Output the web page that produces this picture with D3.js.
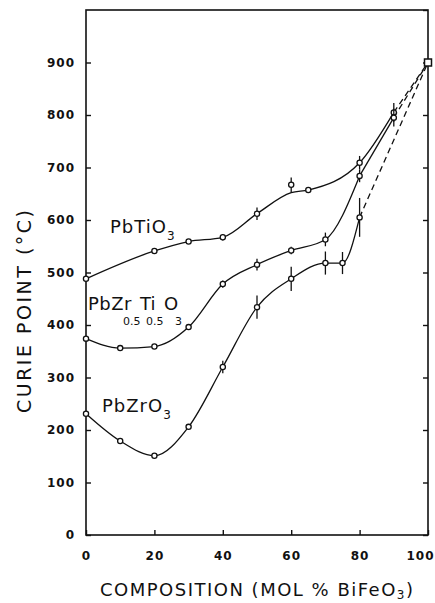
<!DOCTYPE html>
<html><head><meta charset="utf-8">
<script src="https://cdn.jsdelivr.net/npm/d3@7"></script>
<style>body{margin:0;background:#fff}svg{display:block}</style>
</head><body>
<script>
// ---- data ----
const xTicks = [0, 20, 40, 60, 80, 100];
const yTicks = [0, 100, 200, 300, 400, 500, 600, 700, 800, 900];

// PbTiO3 measured points [x, y, err]
const tiX   = [0, 20, 30, 40, 50, 60, 65, 80, 90];
const tiY   = [488, 541, 559, 567, 612, 667, 657, 709, 805];
const tiErr = [0, 0, 0, 6, 12, 14, 0, 13, 18];
// fitted curve for PbTiO3 (solid to 90)
const tiFitX = [0, 20, 30, 40, 50, 60, 65, 80, 90];
const tiFitY = [488, 541, 559, 567, 612, 652, 657, 709, 805];

// PbZr0.5Ti0.5O3
const pztX   = [0, 10, 20, 30, 40, 50, 60, 70, 80, 90];
const pztY   = [374, 356, 359, 396, 478, 515, 542, 563, 684, 795];
const pztErr = [0, 0, 0, 0, 7, 11, 7, 13, 12, 17];

// PbZrO3
const zrX   = [0, 10, 20, 30, 40, 50, 60, 70, 75, 80];
const zrY   = [231, 179, 151, 206, 320, 434, 488, 518, 518, 605];
const zrErr = [0, 0, 0, 0, 12, 22, 23, 22, 21, 37];

// BiFeO3 end member
const endX = [100];
const endY = [900];

const W = 435, H = 603;
const svg = d3.select("body").append("svg").attr("width", W).attr("height", H);

const x = d3.scaleLinear().domain([0, 100]).range([86, 428]);
const y = d3.scaleLinear().domain([0, 1000]).range([535, 10]);

const ink = "#111";

// frame
svg.append("rect").attr("x", x(0)).attr("y", y(1000))
  .attr("width", x(100) - x(0)).attr("height", y(0) - y(1000))
  .attr("fill", "none").attr("stroke", ink).attr("stroke-width", 1.6);

// axes (inward ticks)
const tickFont = "bold 12px 'DejaVu Sans', sans-serif";
const gl = svg.append("g").attr("transform", `translate(${x(0)},0)`)
  .call(d3.axisLeft(y).tickValues(yTicks).tickSizeInner(-5).tickSizeOuter(0).tickPadding(11).tickFormat(d3.format("d")));
const gr = svg.append("g").attr("transform", `translate(${x(100)},0)`)
  .call(d3.axisRight(y).tickValues(yTicks.concat([1000])).tickSizeInner(-5).tickSizeOuter(0).tickFormat(""));
const gb = svg.append("g").attr("transform", `translate(0,${y(0)})`)
  .call(d3.axisBottom(x).tickValues(xTicks).tickSizeInner(-5).tickSizeOuter(0).tickPadding(16).tickFormat(d3.format("d")));
[gl, gr, gb].forEach(g => {
  g.select(".domain").remove();
  g.selectAll(".tick line").attr("stroke", ink).attr("stroke-width", 1.4);
  g.selectAll(".tick text").attr("fill", ink).style("font", tickFont).style("letter-spacing", "1px");
});
// last x tick label sits against the page edge
gb.selectAll(".tick text").filter(d => d === 100).attr("text-anchor", "end").attr("dx", 6);

// line generators
const line = d3.line().x(d => x(d[0])).y(d => y(d[1])).curve(d3.curveMonotoneX);
const straight = d3.line().x(d => x(d[0])).y(d => y(d[1]));
const zip = (a, b) => a.map((v, i) => [v, b[i]]);

const lines = svg.append("g").attr("fill", "none").attr("stroke", ink).attr("stroke-width", 1.3);
lines.append("path").attr("d", line(zip(tiFitX, tiFitY)));
lines.append("path").attr("d", line(zip(pztX.slice(0, 9), pztY.slice(0, 9))));
lines.append("path").attr("d", straight(zip(pztX.slice(8), pztY.slice(8))));
lines.append("path").attr("d", line(zip(zrX, zrY)));
// dashed extrapolations to BiFeO3
const dash = "6,4";
lines.append("path").attr("stroke-dasharray", dash)
  .attr("d", straight([[tiX[8], tiY[8]], [endX[0], endY[0]]]));
lines.append("path").attr("stroke-dasharray", dash)
  .attr("d", straight([[pztX[9], pztY[9]], [endX[0], endY[0]]]));
lines.append("path").attr("stroke-dasharray", dash)
  .attr("d", straight([[zrX[9], zrY[9]], [endX[0], endY[0]]]));

// error bars + markers
function pts(xs, ys, es) {
  const d = xs.map((v, i) => ({x: v, y: ys[i], e: es[i]}));
  const g = svg.append("g");
  g.selectAll("line").data(d.filter(p => p.e > 0)).join("line")
    .attr("x1", p => x(p.x)).attr("x2", p => x(p.x))
    .attr("y1", p => y(p.y + p.e)).attr("y2", p => y(p.y - p.e))
    .attr("stroke", ink).attr("stroke-width", 1.3);
  g.selectAll("circle").data(d).join("circle")
    .attr("cx", p => x(p.x)).attr("cy", p => y(p.y)).attr("r", 2.6)
    .attr("fill", "#fff").attr("stroke", ink).attr("stroke-width", 1.3);
}
pts(tiX, tiY, tiErr);
pts(pztX, pztY, pztErr);
pts(zrX, zrY, zrErr);
svg.append("rect").attr("x", x(endX[0]) - 3.5).attr("y", y(endY[0]) - 3.5)
  .attr("width", 7).attr("height", 7).attr("fill", "#fff").attr("stroke", ink).attr("stroke-width", 1.5);

// series labels
const labFont = "18px 'DejaVu Sans', sans-serif";
function label(xp, yp, parts) {
  const t = svg.append("text").attr("x", xp).attr("y", yp).attr("fill", ink)
    .style("font", labFont).style("letter-spacing", "1px");
  parts.forEach(p => {
    if (p.sub) t.append("tspan").attr("dy", 7).style("font-size", "12px").text(p.t);
    else t.append("tspan").text(p.t);
  });
}
label(110, 233, [{t: "PbTiO"}, {t: "3", sub: true}]);
label(102, 412, [{t: "PbZrO"}, {t: "3", sub: true}]);

// PbZr0.5Ti0.5O3 label, typeset as in the original: subscripts on a lower line
const pzt = svg.append("g").attr("fill", ink).style("font", labFont);
pzt.append("text").attr("x", 88).attr("y", 310).style("letter-spacing", "0.5px").text("PbZr");
pzt.append("text").attr("x", 140).attr("y", 310).text("Ti");
pzt.append("text").attr("x", 164).attr("y", 310).text("O");
const subF = "11px 'DejaVu Sans', sans-serif";
pzt.append("text").attr("x", 123).attr("y", 325).style("font", subF).text("0.5");
pzt.append("text").attr("x", 146).attr("y", 325).style("font", subF).text("0.5");
pzt.append("text").attr("x", 175).attr("y", 325).style("font", subF).text("3");

// axis titles
const tt = svg.append("text").attr("x", 100).attr("y", 596).attr("fill", ink)
  .style("font", "18px 'DejaVu Sans', sans-serif")
  .attr("textLength", 313).attr("lengthAdjust", "spacing");
tt.append("tspan").text("COMPOSITION (MOL % BiFeO");
tt.append("tspan").attr("dy", 3).style("font-size", "12px").text("3");
tt.append("tspan").attr("dy", -3).text(")");

svg.append("text").attr("transform", "translate(31,413) rotate(-90)")
  .attr("fill", ink).style("font", "19px 'DejaVu Sans', sans-serif")
  .attr("textLength", 203).attr("lengthAdjust", "spacing")
  .text("CURIE POINT (°C)");
</script>
</body></html>
